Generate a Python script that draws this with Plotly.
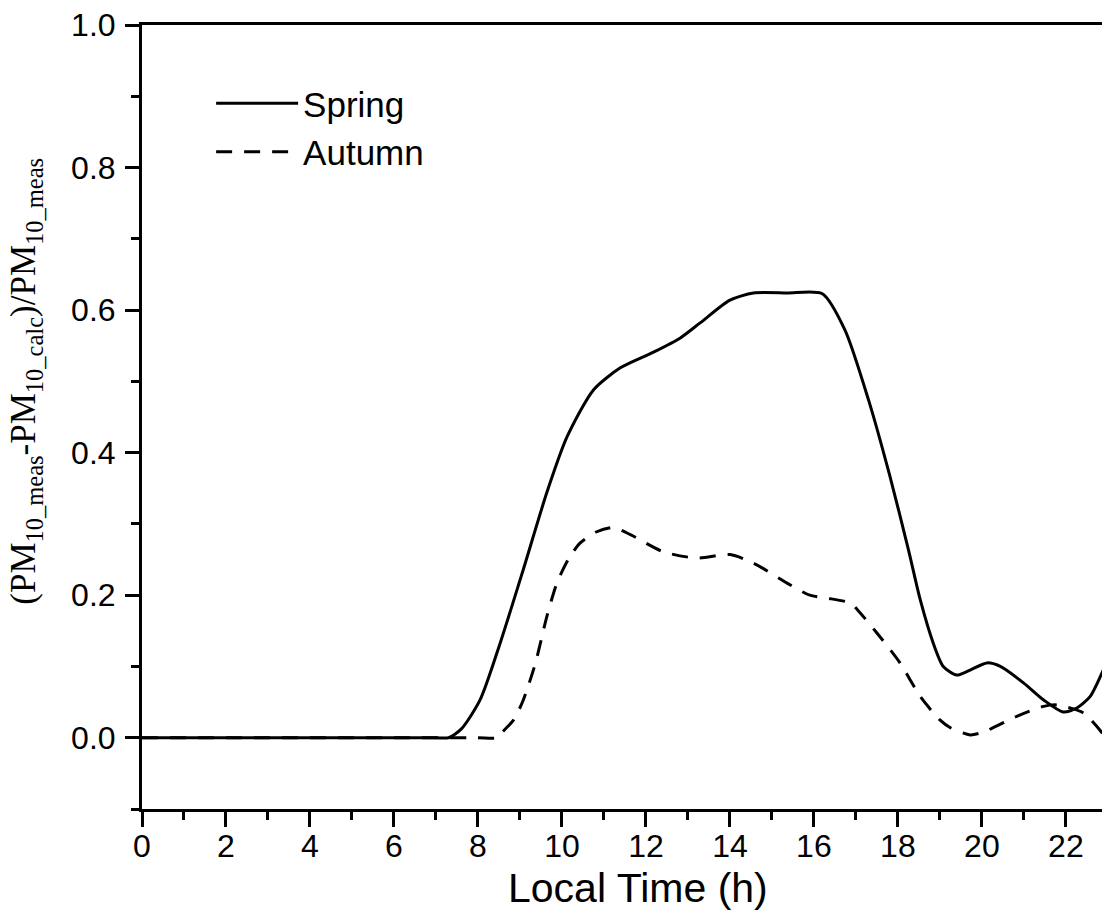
import plotly.graph_objects as go

# Data
spring_time = [0, 2, 4, 6, 7.0, 7.3, 7.6, 8.05, 8.53, 9.08, 9.64, 10.12, 10.75, 11.39, 12.18,
               12.82, 13.29, 14.0, 14.56, 15.36, 16.2, 16.74, 17.3, 17.8, 18.25, 18.53,
               18.84, 19.08, 19.40, 19.72, 20.12, 20.44, 20.99, 21.47, 21.94, 22.27,
               22.58, 22.86, 23.0]
spring_vals = [0, 0, 0, 0, 0, 0, 0.012, 0.053, 0.133, 0.236, 0.344, 0.422, 0.488, 0.519, 0.541,
               0.561, 0.582, 0.614, 0.624, 0.624, 0.623, 0.572, 0.474, 0.369, 0.264, 0.194,
               0.133, 0.100, 0.088, 0.095, 0.105, 0.100, 0.077, 0.053, 0.036, 0.042,
               0.058, 0.091, 0.11]

autumn_time = [0, 2, 4, 6, 8.0, 8.45, 8.58, 8.85, 9.08, 9.37, 9.64, 9.88, 10.15, 10.43,
               10.83, 11.22, 11.63, 12.41, 13.22, 14.0, 14.56, 15.36, 15.9, 16.3, 16.87,
               17.03, 17.5, 18.05, 18.53, 19.0, 19.25, 19.72, 20.04, 20.83, 21.47, 21.79,
               22.41, 22.86, 23.0]
autumn_vals = [0, 0, 0, 0, 0, 0, 0.008, 0.025, 0.053, 0.105, 0.170, 0.217, 0.250, 0.273,
               0.289, 0.295, 0.285, 0.261, 0.252, 0.257, 0.245, 0.217, 0.200, 0.196, 0.189,
               0.180, 0.147, 0.105, 0.058, 0.025, 0.014, 0.004, 0.008, 0.030, 0.044, 0.046,
               0.035, 0.007, -0.005]

x_ticks = list(range(0, 24, 2))
y_ticks = [0.0, 0.2, 0.4, 0.6, 0.8, 1.0]

fig = go.Figure()
fig.add_trace(go.Scatter(x=spring_time, y=spring_vals, mode="lines", name="Spring",
                         line=dict(color="black", width=3, shape="spline", smoothing=0.7)))
fig.add_trace(go.Scatter(x=autumn_time, y=autumn_vals, mode="lines", name="Autumn",
                         line=dict(color="black", width=3, dash="16px,12px",
                                   shape="spline", smoothing=0.7)))

axis_font = dict(family="Liberation Sans, Arial", size=32, color="black")

fig.update_layout(
    width=1102, height=912,
    margin=dict(l=142, r=0, t=25, b=103),
    paper_bgcolor="white", plot_bgcolor="white",
    showlegend=True,
    legend=dict(x=0.072, y=0.9375, xanchor="left", yanchor="top",
                bgcolor="rgba(0,0,0,0)", itemwidth=82, tracegroupgap=0,
                font=dict(family="Liberation Sans, Arial", size=35, color="black")),
    xaxis=dict(range=[0, 22.86], tickvals=x_ticks, ticks="outside", ticklen=15,
               tickwidth=3, tickcolor="black", showline=True, linewidth=3,
               linecolor="black", mirror=True, showgrid=False, zeroline=False,
               tickfont=axis_font, ticklabelstandoff=-8,
               minor=dict(dtick=1, ticks="outside", ticklen=8, tickwidth=3,
                          tickcolor="black", showgrid=False)),
    yaxis=dict(range=[-0.1, 1.0], tickvals=y_ticks, tickformat=".1f", ticks="outside",
               ticklen=14, tickwidth=3, tickcolor="black", showline=True, linewidth=3,
               linecolor="black", mirror=False, showgrid=False, zeroline=False,
               tickfont=axis_font, ticklabelstandoff=3,
               minor=dict(dtick=0.1, tick0=0, ticks="outside", ticklen=8, tickwidth=3,
                          tickcolor="black", showgrid=False)),
    annotations=[
        dict(text="(PM<sub>10_meas</sub>-PM<sub>10_calc</sub>)/PM<sub>10_meas</sub>",
             xref="paper", yref="paper", x=0, y=0.545, xshift=-116,
             xanchor="center", yanchor="middle", textangle=-90, showarrow=False,
             font=dict(family="Liberation Serif, Times New Roman", size=35, color="black")),
        dict(text="Local Time (h)", xref="paper", yref="paper", x=0.517, y=-0.1008,
             xanchor="center", yanchor="middle", showarrow=False,
             font=dict(family="Liberation Sans, Arial", size=41, color="black")),
    ],
)

fig.write_html("out.html")
